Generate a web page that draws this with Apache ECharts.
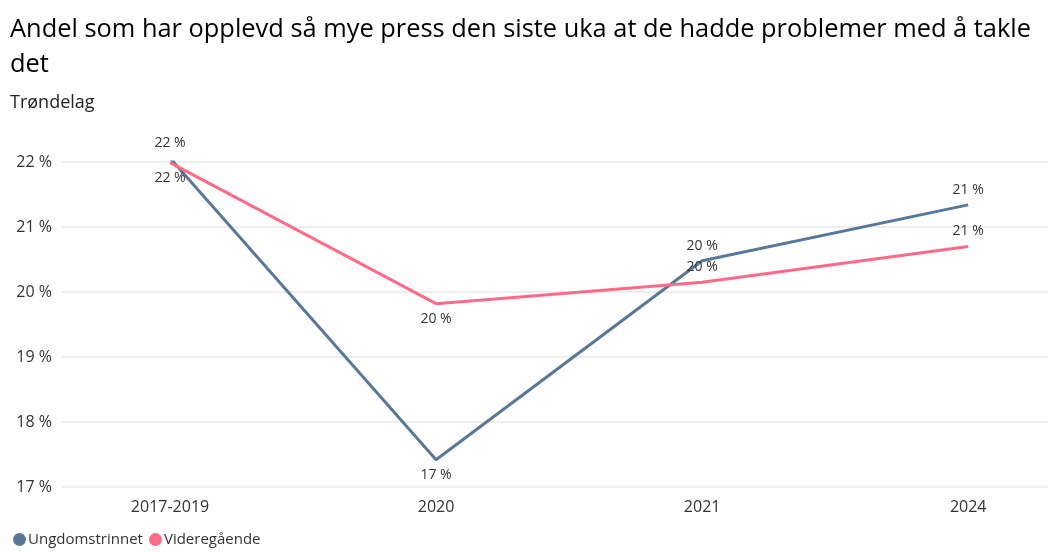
<!DOCTYPE html>
<html>
<head>
<meta charset="utf-8">
<style>
  html, body { margin: 0; padding: 0; background: #fff; }
  #chart { width: 1049px; height: 552px; }
</style>
</head>
<body>
<div id="chart"></div>
<script src="https://cdn.jsdelivr.net/npm/echarts@6/dist/echarts.min.js"></script>
<script>
var categories = ['2017-2019', '2020', '2021', '2024'];
var ungdom = [22.06, 17.42, 20.48, 21.34];
var videre = [21.99, 19.82, 20.15, 20.70];
var ungdomLabelPos = ['top', 'bottom', 'top', 'top'];
var videreLabelPos = ['bottom', 'bottom', 'top', 'top'];

var font = 'Open Sans';

function points(values, positions) {
    return values.map(function (v, i) {
        return { value: [i, v], label: { position: positions[i] } };
    });
}

var myChart = echarts.init(document.getElementById('chart'));

var option = {
    textStyle: { fontFamily: font },
    title: {
        text: 'Andel som har opplevd så mye press den siste uka at de hadde problemer med å takle\ndet',
        subtext: 'Trøndelag',
        left: 5,
        top: 7,
        itemGap: 12,
        textStyle: { fontFamily: font, fontSize: 25.4, fontWeight: 'normal', color: '#000', lineHeight: 35 },
        subtextStyle: { fontFamily: font, fontSize: 18, color: '#222' }
    },
    legend: {
        left: 8,
        bottom: 0,
        icon: 'circle',
        itemWidth: 13,
        itemHeight: 13,
        itemGap: 6,
        textStyle: { fontFamily: font, fontSize: 15, color: '#333', padding: [0, 0, 0, -3] },
        data: ['Ungdomstrinnet', 'Videregående']
    },
    grid: { left: 62, right: 1, top: 162, bottom: 65 },
    xAxis: {
        type: 'value',
        min: -0.406,
        max: 3.3,
        axisLine: { show: false },
        axisTick: { show: false },
        splitLine: { show: false },
        axisLabel: {
            customValues: [0, 1, 2, 3],
            formatter: function (v) { return categories[Math.round(v)]; },
            fontFamily: font,
            fontSize: 16,
            color: '#333',
            margin: 12
        }
    },
    yAxis: {
        type: 'value',
        min: 17,
        max: 22,
        interval: 1,
        axisLine: { show: false },
        axisTick: { show: false },
        splitLine: { lineStyle: { color: '#e9e9e9', width: 1.5 } },
        axisLabel: {
            formatter: '{value} %',
            fontFamily: font,
            fontSize: 16,
            color: '#333',
            margin: 10
        }
    },
    series: [
        {
            name: 'Ungdomstrinnet',
            type: 'line',
            clip: false,
            symbol: 'circle',
            symbolSize: 0,
            color: '#58789a',
            lineStyle: { width: 3 },
            label: {
                show: true,
                fontFamily: font,
                fontSize: 14,
                color: '#333',
                distance: 8,
                formatter: function (p) { return Math.round(p.value[1]) + ' %'; }
            },
            data: points(ungdom, ungdomLabelPos)
        },
        {
            name: 'Videregående',
            type: 'line',
            clip: false,
            symbol: 'circle',
            symbolSize: 0,
            color: '#ff6b86',
            lineStyle: { width: 3 },
            label: {
                show: true,
                fontFamily: font,
                fontSize: 14,
                color: '#333',
                distance: 8,
                formatter: function (p) { return Math.round(p.value[1]) + ' %'; }
            },
            data: points(videre, videreLabelPos)
        }
    ]
};
myChart.setOption(option);
</script>
</body>
</html>
